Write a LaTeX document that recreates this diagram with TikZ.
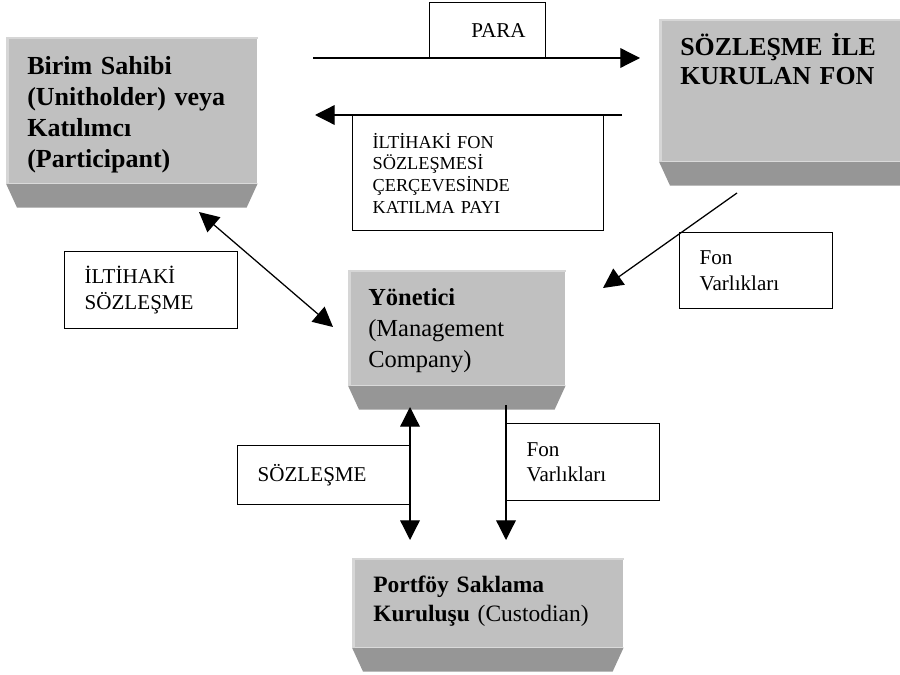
\documentclass[tikz,border=0pt]{standalone}
\usepackage{fontspec}
\setmainfont{Liberation Serif}
\usetikzlibrary{arrows.meta, calc}
\definecolor{kutugri}{RGB}{192,192,192}
\definecolor{tabangri}{RGB}{150,150,150}
\definecolor{acikgri}{RGB}{214,214,214}
\tikzset{
>={Triangle[length=14pt, width=14pt]}, % filled arrow heads
ok/.style={->, line width=0.9pt}, % one way arrow
ikiok/.style={<->, line width=0.9pt}, % two way arrow
kutu/.style={fill=kutugri, anchor=north west, inner sep=0pt}, % gray boxes
kutuyazi/.style={anchor=base west, inner sep=0pt, text width=6.5cm, align=left}, % text in the gray boxes
etiket/.style={draw, line width=0.9pt, fill=white, anchor=north west, inner xsep=0.5cm, inner ysep=0pt, align=left, font=\fontsize{15}{18}\selectfont}, % white label boxes
}
% darker bevel under a gray box
\newcommand{\kututaban}[1]{%
  \fill[tabangri] (#1.south west) -- (#1.south east) -- ($(#1.south east)+(-11,24)$) -- ($(#1.south west)+(11,24)$) -- cycle;
  \draw[acikgri, line width=1.4pt] ($(#1.north west)+(0,1)$) -- ($(#1.north east)+(0,1)$);
  \draw[acikgri, line width=2pt] ($(#1.north west)+(1.5,0)$) -- ($(#1.south west)+(1.5,0)$);
}

\begin{document}
\begin{tikzpicture}[x=0.025cm, y=-0.025cm]
\useasboundingbox (0,0) rectangle (900,675);
\clip (0,0) rectangle (900,675);

% gray boxes
\node[kutu, minimum width=6.275cm, minimum height=3.65cm] (birim) at (6,37) {};
\node[kutuyazi, font=\bfseries\fontsize{18.5}{22}\selectfont] (birimyazi) at (27,75) {Birim Sahibi\\(Unitholder) veya\\Katılımcı\\(Participant)};
\node[kutu, minimum width=6.3cm, minimum height=3.55cm] (fon) at (659,19) {};
\node[kutuyazi, font=\bfseries\fontsize{18.4}{20}\selectfont] (fonyazi) at (680,56) {SÖZLEŞME İLE\\KURULAN FON};
\node[kutu, minimum width=5.425cm, minimum height=2.875cm] (yonetici) at (348,270) {};
\node[kutuyazi, font=\fontsize{17.4}{22}\selectfont] (yoneticiyazi) at (368,306) {\textbf{Yönetici}\\(Management\\Company)};
\node[kutu, minimum width=6.775cm, minimum height=2.225cm] (saklama) at (352,558) {};
\node[kutuyazi, font=\fontsize{16.7}{21}\selectfont] (saklamayazi) at (373,592) {\textbf{Portföy Saklama}\\\textbf{Kuruluşu} (Custodian)};
\foreach \k in {birim, fon, yonetici, saklama} {\kututaban{\k}}

% labels
\node[etiket, minimum width=2.9cm, minimum height=1.4cm, text width=1.9cm, align=right] (para) at (429,2) {PARA};
\node[etiket, minimum width=6.275cm, minimum height=2.875cm, text width=5.275cm, font=\fontsize{13}{15.4}\selectfont] (katilma) at (352,115) {İLTİHAKİ FON\\SÖZLEŞMESİ\\ÇERÇEVESİNDE\\KATILMA PAYI};
\node[etiket, minimum width=4.325cm, minimum height=1.925cm, text width=3.325cm] (iltihak) at (64,251) {İLTİHAKİ\\SÖZLEŞME};
\node[etiket, minimum width=3.825cm, minimum height=1.9cm, text width=2.825cm] (varlik1) at (679,232) {Fon\\Varlıkları};
\node[etiket, minimum width=4.325cm, minimum height=1.475cm, text width=3.325cm] (sozlesme) at (237,445) {SÖZLEŞME};
\node[etiket, minimum width=3.825cm, minimum height=1.925cm, text width=2.825cm] (varlik2) at (506,423) {Fon\\Varlıkları};

% arrow ends
\coordinate (parabas) at (313,58);
\coordinate (parauc) at (640,58);
\coordinate (paybas) at (622,115);
\coordinate (payuc) at (315,115);
\coordinate (iltihak1) at (199,212);
\coordinate (iltihak2) at (333,327);
\coordinate (varlikbas) at (737,193);
\coordinate (varlikuc) at (603,288);
\coordinate (sozlesme1) at (410,407);
\coordinate (sozlesme2) at (410,540);
\coordinate (saklamabas) at (506,405);
\coordinate (saklamauc) at (506,540);

\draw[ok] (parabas) -- (parauc);
\draw[ok] (paybas) -- (payuc);
\draw[ikiok] (iltihak1) -- (iltihak2);
\draw[ok] (varlikbas) -- (varlikuc);
\draw[ikiok] (sozlesme1) -- (sozlesme2);
\draw[ok] (saklamabas) -- (saklamauc);
\end{tikzpicture}
\end{document}
